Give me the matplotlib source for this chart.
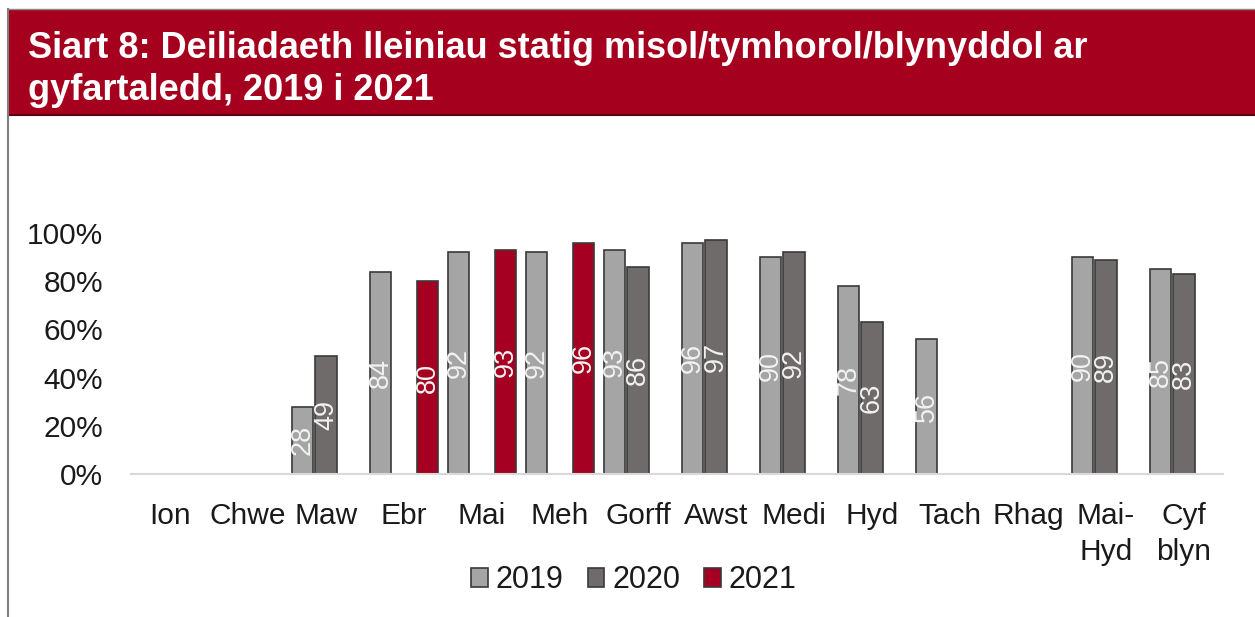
import numpy as np
import matplotlib
matplotlib.use("Agg")
import matplotlib.pyplot as plt
from matplotlib.patches import Rectangle
from matplotlib.lines import Line2D

plt.rcParams['font.family'] = ['Liberation Sans', 'DejaVu Sans']

categories = ["Ion", "Chwe", "Maw", "Ebr", "Mai", "Meh", "Gorff", "Awst",
              "Medi", "Hyd", "Tach", "Rhag", "Mai-\nHyd", "Cyf\nblyn"]
nan = np.nan
v2019 = [nan, nan, 28, 84, 92, 92, 93, 96, 90, 78, 56, nan, 90, 85]
v2020 = [nan, nan, 49, nan, nan, nan, 86, 97, 92, 63, nan, nan, 89, 83]
v2021 = [nan, nan, nan, 80, 93, 96, nan, nan, nan, nan, nan, nan, nan, nan]
series_names = ["2019", "2020", "2021"]
yticks = [0, 20, 40, 60, 80, 100]

colors = ["#a5a5a5", "#6f6b6a", "#a50021"]
edge = "#3a3a3a"

W, H = 1255, 617
fig = plt.figure(figsize=(W / 100, H / 100), dpi=100)

# header band
band_top, band_bot = 9, 115
fig.patches.append(Rectangle((8 / W, 1 - band_bot / H), 1 - 8 / W, (band_bot - band_top) / H,
                             transform=fig.transFigure, facecolor="#a5001e", edgecolor="none", zorder=0))
fig.lines.append(Line2D([8 / W, 1], [1 - band_bot / H, 1 - band_bot / H], transform=fig.transFigure,
                        color="#5a0010", lw=1.5))
fig.lines.append(Line2D([8 / W, 1], [1 - band_top / H, 1 - band_top / H], transform=fig.transFigure,
                        color="#8a8a8a", lw=1))
fig.lines.append(Line2D([8 / W, 8 / W], [0, 1 - band_top / H], transform=fig.transFigure,
                        color="#7f7f7f", lw=1.5))
fig.text(28 / W, 1 - 58 / H, "Siart 8: Deiliadaeth lleiniau statig misol/tymhorol/blynyddol ar",
         color="white", fontsize=26, fontweight="bold", va="baseline", ha="left")
fig.text(28 / W, 1 - 100 / H, "gyfartaledd, 2019 i 2021",
         color="white", fontsize=26, fontweight="bold", va="baseline", ha="left")

left, right = 131 / W, 1223 / W
bottom, top = 1 - 474 / H, 1 - 233 / H
ax = fig.add_axes([left, bottom, right - left, top - bottom])

x = np.arange(len(categories))
width = 0.27
offsets = [-0.30, 0.0, 0.30]
for vals, name, col, off in zip([v2019, v2020, v2021], series_names, colors, offsets):
    arr = np.array(vals, dtype=float)
    ax.bar(x + off, arr / 100, width, color=col, edgecolor=edge, linewidth=1.2, label=name)
    for xi, v in zip(x, arr):
        if not np.isnan(v):
            ax.text(xi + off, v / 200, f"{int(v)}", rotation=90, ha="center", va="center",
                    color="#f2f2f2", fontsize=19.5)

ax.set_xlim(-0.5, len(categories) - 0.5)
ax.set_ylim(0, 1.0)
ax.set_yticks([t / 100 for t in yticks])
ax.set_yticklabels([f"{t}%" for t in yticks])
ax.set_xticks(x)
ax.set_xticklabels(categories, linespacing=1.37)
ax.tick_params(axis="both", length=0, labelsize=21.5, colors="#1a1a1a")
ax.tick_params(axis="x", pad=20)
ax.tick_params(axis="y", pad=20)
for s in ["top", "right", "left"]:
    ax.spines[s].set_visible(False)
ax.spines["bottom"].set_color("#d9d9d9")
ax.spines["bottom"].set_linewidth(1.5)

handles, labels = ax.get_legend_handles_labels()
fig.legend(handles, labels, loc="center", bbox_to_anchor=(634 / W, 1 - 580 / H), ncol=3,
           frameon=False, fontsize=22, handlelength=0.55, handleheight=0.6,
           handletextpad=0.26, columnspacing=0.78, labelcolor="#1a1a1a")

fig.savefig("out.png", dpi=100)
